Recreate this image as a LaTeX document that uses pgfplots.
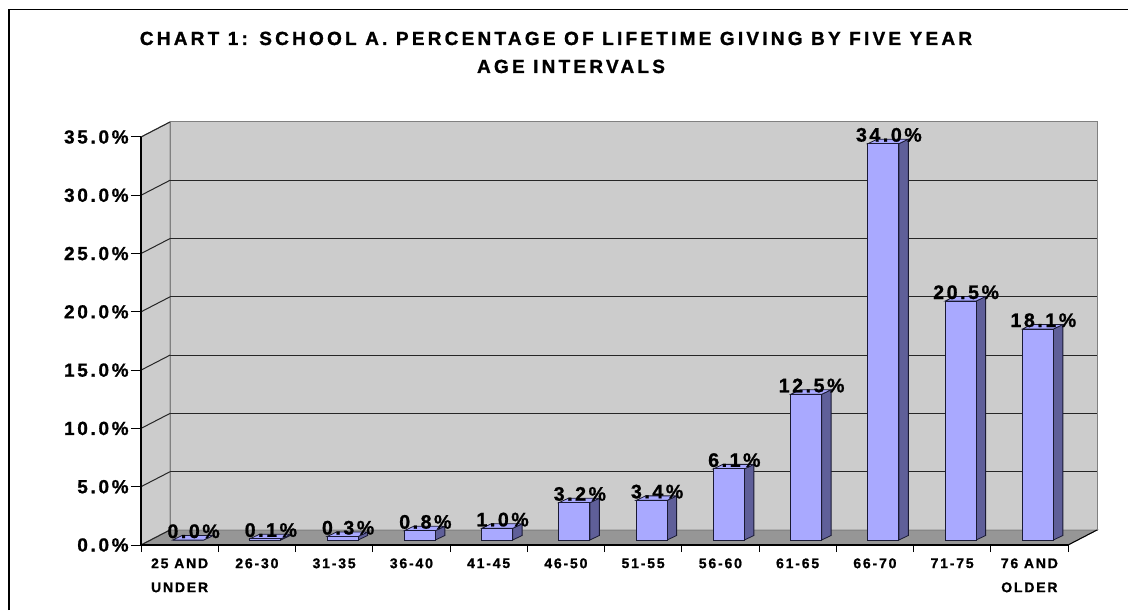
\documentclass[border=0pt]{standalone}
\usepackage{pgfplots}
\usepackage{pgfplotstable}
\pgfplotsset{compat=1.18}
\usepackage{fontspec}
\setmainfont{Liberation Sans}
\newfontfamily\lsfont[LetterSpace=13, BoldFeatures={FakeBold=1}]{Liberation Sans}
\newfontfamily\ysfont[LetterSpace=14, BoldFeatures={FakeBold=1}]{Liberation Sans}
\newfontfamily\tfont[LetterSpace=17, BoldFeatures={FakeBold=1.2}]{Liberation Sans}
\definecolor{wall}{HTML}{CCCCCC}
\definecolor{floorc}{HTML}{969696}
\definecolor{barfront}{HTML}{A9A9FF}
\definecolor{bartop}{HTML}{A9A9FF}
\definecolor{barside}{HTML}{5F5F99}
\definecolor{baredge}{HTML}{1A1A33}
\definecolor{edge}{HTML}{808080}

\pgfplotstableread{
x v
0 0.0
1 0.1
2 0.3
3 0.8
4 1.0
5 3.2
6 3.4
7 6.1
8 12.5
9 34.0
10 20.5
11 18.1
}\datatable

\begin{document}
\begin{tikzpicture}
\useasboundingbox (0,0) rectangle (564pt,305pt);
\fill[white] (0,0) rectangle (564pt,305pt);
\draw[line width=0.8pt] (4.5pt,0) -- (4.5pt,300.25pt) -- (564pt,300.25pt);
\node[font=\tfont\bfseries\fontsize{9.5}{11}\selectfont, anchor=base, inner sep=0pt] at (278pt,282.5pt) {CHART 1: SCHOOL A. PERCENTAGE OF LIFETIME GIVING BY FIVE YEAR};
\node[font=\tfont\bfseries\fontsize{9.5}{11}\selectfont, anchor=base, inner sep=0pt] at (285.5pt,268.5pt) {AGE INTERVALS};

\begin{axis}[
  at={(70.5pt,32.5pt)}, anchor=south west,
  scale only axis, width=463.5pt, height=204pt,
  xmin=-0.5, xmax=11.5, ymin=0, ymax=35,
  axis on top=true,
  clip=false,
  axis lines*=left,
  axis line style={black, line width=0.6pt},
  xtick={0,...,11},
  xticklabels={{25 AND\\UNDER},{26-30},{31-35},{36-40},{41-45},{46-50},{51-55},{56-60},{61-65},{66-70},{71-75},{76 AND\\OLDER}},
  major x tick style={draw=none},
  minor xtick={-0.5,0.5,...,11.5},
  ytick={0,5,...,35},
  yticklabels={0.0\%,5.0\%,10.0\%,15.0\%,20.0\%,25.0\%,30.0\%,35.0\%},
  tick align=outside,
  major tick length=5pt, minor tick length=3.5pt,
  tick style={black, line width=0.5pt},
  /pgf/number format/assume math mode=true,
  yticklabel style={font=\ysfont\bfseries\fontsize{9.5}{11}\selectfont, inner sep=1pt},
  xticklabel style={font=\lsfont\bfseries\fontsize{7}{12}\selectfont, align=center, inner sep=0pt, yshift=-1.5pt},
]
% left wall
\filldraw[fill=wall, draw=edge, line width=0.5pt] (axis cs:-0.5,0) -- (axis cs:-0.5,35) -- ([shift={(14.5pt,7.5pt)}]axis cs:-0.5,35) -- ([shift={(14.5pt,7.5pt)}]axis cs:-0.5,0) -- cycle;
% back wall
\filldraw[fill=wall, draw=edge, line width=0.5pt] ([shift={(14.5pt,7.5pt)}]axis cs:-0.5,0) rectangle ([shift={(14.5pt,7.5pt)}]axis cs:11.5,35);
% floor
\filldraw[fill=floorc, draw=edge, line width=0.5pt] (axis cs:-0.5,0) -- (axis cs:11.5,0) -- ([shift={(14.5pt,7.5pt)}]axis cs:11.5,0) -- ([shift={(14.5pt,7.5pt)}]axis cs:-0.5,0) -- cycle;
\draw[black, line width=0.5pt] (axis cs:11.5,0) -- ([shift={(14.5pt,7.5pt)}]axis cs:11.5,0);
% grid lines
\pgfplotsinvokeforeach{5,10,15,20,25,30}{
  \draw[black!85, line width=0.5pt] ([shift={(14.5pt,7.5pt)}]axis cs:-0.5,#1) -- ([shift={(14.5pt,7.5pt)}]axis cs:11.5,#1);
}
\pgfplotsinvokeforeach{0,5,10,15,20,25,30,35}{
  \draw[black!85, line width=0.5pt] (axis cs:-0.5,#1) -- ([shift={(14.5pt,7.5pt)}]axis cs:-0.5,#1);
}
\end{axis}

\begin{axis}[
  at={(74.75pt,35pt)}, anchor=south west,
  scale only axis, width=463.5pt, height=204pt,
  xmin=-0.5, xmax=11.5, ymin=0, ymax=35,
  hide axis, clip=false,
  /pgf/number format/assume math mode=true,
]
\pgfplotsinvokeforeach{0,...,11}{
  \pgfplotstablegetelem{#1}{v}\of\datatable
  \edef\tmp{%
    \noexpand\filldraw[fill=barside, draw=baredge, line width=0.4pt]
      ([xshift=7.75pt]axis cs:#1,0) -- ([xshift=7.75pt]axis cs:#1,\pgfplotsretval) -- ([xshift=12.5pt,yshift=2.25pt]axis cs:#1,\pgfplotsretval) -- ([xshift=12.5pt,yshift=2.25pt]axis cs:#1,0) -- cycle;
    \noexpand\filldraw[fill=bartop, draw=baredge, line width=0.4pt]
      ([xshift=-7.75pt]axis cs:#1,\pgfplotsretval) -- ([xshift=7.75pt]axis cs:#1,\pgfplotsretval) -- ([xshift=12.5pt,yshift=2.25pt]axis cs:#1,\pgfplotsretval) -- ([xshift=-3pt,yshift=2.25pt]axis cs:#1,\pgfplotsretval) -- cycle;
  }\tmp
}
\addplot[ybar, bar width=15.5pt, bar shift=0pt, fill=barfront, draw=baredge, line width=0.4pt,
  nodes near coords={\pgfmathprintnumber[fixed,fixed zerofill,precision=1]{\pgfplotspointmeta}\%},
  every node near coord/.style={anchor=base, yshift=1pt, xshift=2.75pt, inner sep=0pt, font=\lsfont\bfseries\fontsize{9.8}{11}\selectfont, text=black},
] table[x=x, y=v] {\datatable};
\end{axis}
\end{tikzpicture}
\end{document}
